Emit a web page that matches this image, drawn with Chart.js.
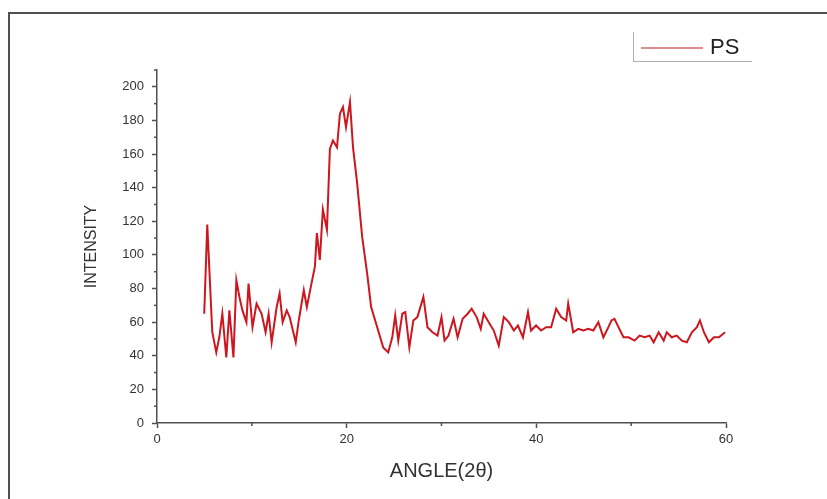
<!DOCTYPE html>
<html>
<head>
<meta charset="utf-8">
<script src="https://cdn.jsdelivr.net/npm/chart.js@4.4.1/dist/chart.umd.min.js"></script>
<style>
  body { margin: 0; background: #fff; }
  #wrap { position: relative; width: 827px; height: 499px; overflow: hidden; }
  #frame { position: absolute; left: 8px; top: 12px; width: 900px; height: 600px;
           border-top: 2px solid #505050; border-left: 2px solid #505050; }
  #myChart { position: absolute; left: 0; top: 0; }
  #legend { position: absolute; left: 633px; top: 32px; width: 118px; height: 29px;
            border-left: 1px solid #b0b0b0; border-bottom: 1px solid #b0b0b0;
            font-family: "Liberation Sans", Arial, sans-serif; font-size: 22px; color: #222; }
  #legend .ln { position: absolute; left: 7px; top: 15px; width: 62px; height: 0;
                border-top: 2px solid #dc8c8c; }
  #legend .tx { position: absolute; left: 76px; top: 2px; }
</style>
</head>
<body>
<div id="wrap">
  <div id="frame"></div>
  <canvas id="myChart" width="827" height="499"></canvas>
  <div id="legend"><div class="ln"></div><div class="tx"></div></div>
</div>
<script>
// XRD pattern, PS

var seriesName = "PS";
var xTitle = "ANGLE(2\u03b8)";
var yTitle = "INTENSITY";

var angle = [4.98, 5.30, 5.83, 6.25, 6.57, 6.89, 7.31, 7.63, 8.06, 8.37,
             8.69, 9.01, 9.43, 9.65, 10.07, 10.50, 11.03, 11.45, 11.77, 12.09,
             12.62, 12.93, 13.25, 13.68, 13.99, 14.63, 14.95, 15.48, 15.80, 16.22,
             16.65, 16.86, 17.17, 17.49, 17.92, 18.23, 18.55, 18.98, 19.29, 19.61,
             19.93, 20.35, 20.67, 21.10, 21.63, 22.16, 22.58, 23.22, 23.85, 24.38,
             24.81, 25.12, 25.44, 25.87, 26.18, 26.61, 27.03, 27.46, 28.09, 28.52,
             29.05, 29.58, 30.00, 30.32, 30.74, 31.27, 31.70, 32.23, 32.76, 33.18,
             33.71, 34.14, 34.45, 34.98, 35.51, 36.04, 36.57, 37.10, 37.63, 38.06,
             38.59, 39.12, 39.44, 39.97, 40.50, 41.03, 41.56, 42.09, 42.62, 43.15,
             43.36, 43.89, 44.42, 44.95, 45.48, 46.01, 46.54, 47.07, 47.60, 47.92,
             48.24, 48.66, 49.19, 49.72, 50.36, 50.89, 51.42, 51.95, 52.37, 52.90,
             53.43, 53.75, 54.28, 54.81, 55.34, 55.87, 56.40, 56.93, 57.25, 57.67,
             58.20, 58.73, 59.26, 59.90];

var intensity = [65, 118, 54, 42, 51, 65, 39, 67, 39, 85,
                 75, 67, 60, 83, 57, 71, 65, 54, 65, 48,
                 69, 77, 60, 67, 63, 48, 61, 79, 69, 81,
                 93, 113, 97, 127, 115, 163, 168, 164, 184, 188,
                 176, 191, 164, 143, 111, 89, 69, 57, 45, 42,
                 51, 64, 49, 65, 66, 45, 61, 63, 75, 57,
                 54, 52, 63, 49, 52, 62, 51, 62, 65, 68,
                 63, 56, 65, 60, 55, 46, 63, 60, 55, 58,
                 51, 66, 55, 58, 55, 57, 57, 68, 63, 61,
                 71, 54, 56, 55, 56, 55, 60, 51, 57, 61,
                 62, 57, 51, 51, 49, 52, 51, 52, 48, 54,
                 49, 54, 51, 52, 49, 48, 54, 57, 61, 54,
                 48, 51, 51, 54];

var points = [];
for (let i = 0; i < angle.length; i++) {
    points.push({x: angle[i], y: intensity[i]});
}

var axisColor = "#505050";
var fontFam = "'Liberation Sans', Arial, sans-serif";
var tickFont = {family: fontFam, size: 13};

// small ticks between the labelled ones
const minorTicks = {
    id: "minorTicks",
    afterDraw(chart) {
        const ctx = chart.ctx;
        const xs = chart.scales.x, ys = chart.scales.y;
        ctx.save();
        ctx.strokeStyle = axisColor;
        ctx.lineWidth = 1.5;
        xs.ticks.forEach(t => {
            if (t.value % 20 !== 0) {
                let px = xs.getPixelForValue(t.value);
                ctx.beginPath(); ctx.moveTo(px, xs.top); ctx.lineTo(px, xs.top + 3); ctx.stroke();
            }
        });
        ys.ticks.forEach(t => {
            if (t.value % 20 !== 0) {
                let py = ys.getPixelForValue(t.value);
                ctx.beginPath(); ctx.moveTo(ys.right, py); ctx.lineTo(ys.right - 3, py); ctx.stroke();
            }
        });
        ctx.restore();
    }
};

new Chart("myChart", {
    type: "line",
    data: {
        datasets: [{
            label: seriesName,
            data: points,
            borderColor: "rgb(205,22,30)",
            borderWidth: 2,
            pointRadius: 0,
            tension: 0,
            fill: false
        }]
    },
    options: {
        responsive: false,
        animation: false,
        layout: {padding: {left: 78, right: 101, top: 70, bottom: 12}},
        plugins: {legend: {display: false}, tooltip: {enabled: false}},
        scales: {
            x: {
                type: "linear",
                min: 0, max: 60,
                afterFit: (s) => { s.height = 64; },
                border: {color: axisColor, width: 1.5},
                grid: {drawOnChartArea: false, tickLength: 5,
                       tickColor: (c) => c.tick && c.tick.value % 20 === 0 ? axisColor : "rgba(0,0,0,0)",
                       tickWidth: 1.5},
                ticks: {stepSize: 10, padding: 4, color: "#333", font: tickFont, maxRotation: 0,
                        autoSkip: false,
                        callback: (v) => v % 20 === 0 ? v : ""},
                title: {display: true, text: xTitle, color: "#333",
                        font: {family: fontFam, size: 20}}
            },
            y: {
                min: 0, max: 210,
                afterFit: (s) => { s.width = 79; },
                border: {color: axisColor, width: 1.5},
                grid: {drawOnChartArea: false, tickLength: 5,
                       tickColor: (c) => c.tick && c.tick.value % 20 === 0 ? axisColor : "rgba(0,0,0,0)",
                       tickWidth: 1.5},
                ticks: {stepSize: 10, padding: 8, color: "#333", font: tickFont, autoSkip: false,
                        callback: (v) => v % 20 === 0 ? v : ""},
                title: {display: true, text: yTitle, color: "#333",
                        font: {family: fontFam, size: 16}}
            }
        }
    },
    plugins: [minorTicks]
});

document.querySelector("#legend .tx").textContent = seriesName;
</script>
</body>
</html>
